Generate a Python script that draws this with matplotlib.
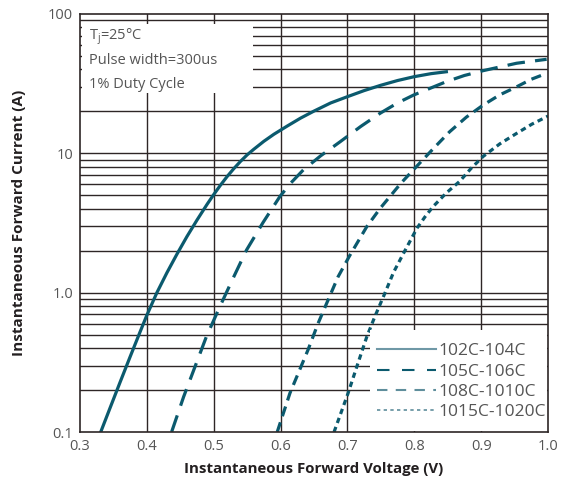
import numpy as np
import matplotlib
matplotlib.use('Agg')
from matplotlib import pyplot as plt
from matplotlib.lines import Line2D
from matplotlib.patches import Rectangle

# values (V in volts, I in amps)
v_102 = [0.331, 0.345, 0.360, 0.375, 0.390, 0.400, 0.415, 0.430, 0.445, 0.460,
         0.475, 0.490, 0.500, 0.510, 0.520, 0.530, 0.540, 0.550, 0.560, 0.575,
         0.590, 0.610, 0.630, 0.650, 0.675, 0.700, 0.725, 0.750, 0.775, 0.800,
         0.825, 0.848]
i_102 = [0.1, 0.149, 0.228, 0.347, 0.525, 0.689, 1.0, 1.39, 1.89, 2.53,
         3.32, 4.30, 5.06, 5.90, 6.81, 7.76, 8.75, 9.75, 10.7, 12.2,
         13.7, 15.7, 17.9, 20.1, 23.0, 25.5, 28.2, 30.8, 33.3, 35.5,
         37.3, 38.5]

v_105 = [0.437, 0.455, 0.472, 0.489, 0.509, 0.529, 0.549, 0.574, 0.599, 0.615,
         0.634, 0.660, 0.689, 0.720, 0.749, 0.775, 0.799, 0.848, 0.875, 0.903,
         0.953, 0.998]
i_105 = [0.1, 0.179, 0.294, 0.483, 0.79, 1.27, 2.02, 3.2, 4.9, 6.1,
         7.6, 9.6, 12.1, 15.6, 19.4, 23.0, 26.2, 32.7, 36.2, 39.2,
         44.3, 47.3]

v_108 = [0.595, 0.614, 0.641, 0.656, 0.669, 0.686, 0.703, 0.729, 0.749, 0.780,
         0.806, 0.830, 0.853, 0.878, 0.903, 0.928, 0.953, 0.975, 0.998]
i_108 = [0.1, 0.19, 0.388, 0.6, 0.84, 1.3, 1.83, 2.98, 4.03, 6.1,
         8.3, 11.0, 14.3, 18.2, 22.2, 26.3, 30.0, 34.0, 37.5]

v_1015 = [0.680, 0.701, 0.714, 0.729, 0.741, 0.756, 0.769, 0.784, 0.804, 0.816,
          0.828, 0.848, 0.868, 0.885, 0.903, 0.928, 0.953, 0.976, 1.0]
i_1015 = [0.1, 0.19, 0.294, 0.483, 0.673, 0.99, 1.4, 1.92, 2.9, 3.5,
          4.14, 5.2, 6.3, 7.8, 9.5, 11.7, 13.9, 16.2, 18.5]

labels = ['102C-104C', '105C-106C', '108C-1010C', '1015C-1020C']
x_ticks = [0.3, 0.4, 0.5, 0.6, 0.7, 0.8, 0.9, 1.0]
y_ticks = [0.1, 1.0, 10, 100]
y_ticklabels = ['0.1', '1.0', '10', '100']

plt.rcParams['font.family'] = ['Open Sans', 'DejaVu Sans']

teal = '#0b5a6e'
gridc = '#2e2626'

fig = plt.figure(figsize=(5.61, 4.84), dpi=100)
ax = fig.add_axes([0.1426, 0.1074, 0.8342, 0.8637])

ax.set_yscale('log')
ax.set_xlim(0.3, 1.0)
ax.set_ylim(0.1, 100)

# grid: every 0.1 V and every minor decade step
for xv in x_ticks[1:-1]:
    ax.axvline(xv, color=gridc, lw=1.0, zorder=1)
for dec in [0.1, 1, 10]:
    for m in range(1, 10):
        yv = dec * m
        if 0.1 < yv < 100:
            ax.axhline(yv, color=gridc, lw=1.0, zorder=1)

ls_105 = (0, (5.5, 3.2))
ls_108 = (0, (3.2, 2.0))
ls_1015 = (0, (1.7, 1.3))

ax.plot(v_102, i_102, color=teal, lw=2.3, zorder=3)
ax.plot(v_105, i_105, color=teal, lw=2.3, ls=ls_105, zorder=3)
ax.plot(v_108, i_108, color=teal, lw=2.3, ls=ls_108, zorder=3)
ax.plot(v_1015, i_1015, color=teal, lw=2.3, ls=ls_1015, zorder=3)

# text box in upper left
ax.add_patch(Rectangle((0.004, 0.81), 0.366, 0.167, transform=ax.transAxes,
                       facecolor='white', edgecolor='none', zorder=2))
tc = '#555555'
ax.text(0.02, 0.945, r'T$_\mathregular{j}$=25°C', transform=ax.transAxes,
        fontsize=10.5, color=tc, va='center', zorder=4)
ax.text(0.02, 0.888, 'Pulse width=300us', transform=ax.transAxes,
        fontsize=10.5, color=tc, va='center', zorder=4)
ax.text(0.02, 0.832, '1% Duty Cycle', transform=ax.transAxes,
        fontsize=10.5, color=tc, va='center', zorder=4)

# white panel behind the legend
ax.add_patch(Rectangle((0.62, 0.003), 0.377, 0.241, transform=ax.transAxes,
                       facecolor='white', edgecolor='none', zorder=4))

handles = [Line2D([], [], color='#6f98a6', lw=1.5),
           Line2D([], [], color=teal, lw=1.5, ls=(0, (6, 6))),
           Line2D([], [], color='#5f8e9c', lw=1.5, ls=(0, (5, 4))),
           Line2D([], [], color='#5f8e9c', lw=1.2, ls=(0, (2, 2)))]
leg = ax.legend(handles, labels, loc='lower right', bbox_to_anchor=(1.012, 0.009),
                frameon=False, fontsize=12.5, handlelength=3.4,
                handletextpad=0.15, labelspacing=0.24, borderpad=0.45,
                borderaxespad=0.0)
leg.set_zorder(5)
for t in leg.get_texts():
    t.set_color(tc)

ax.set_xticks(x_ticks)
ax.set_xticklabels(['%.1f' % v for v in x_ticks])
ax.set_yticks(y_ticks)
ax.set_yticklabels(y_ticklabels)
ax.yaxis.set_minor_locator(matplotlib.ticker.NullLocator())
ax.tick_params(length=0, labelsize=10.5, labelcolor=tc, pad=5)

for s in ax.spines.values():
    s.set_color(gridc)
    s.set_linewidth(1.2)
    s.set_zorder(6)

ax.set_xlabel('Instantaneous Forward Voltage (V)', fontsize=10.8, fontweight='bold',
              color='#231f20', labelpad=6)
ax.set_ylabel('Instantaneous Forward Current (A)', fontsize=11, fontweight='bold',
              color='#231f20', labelpad=16)

fig.savefig('out.png', dpi=100)
